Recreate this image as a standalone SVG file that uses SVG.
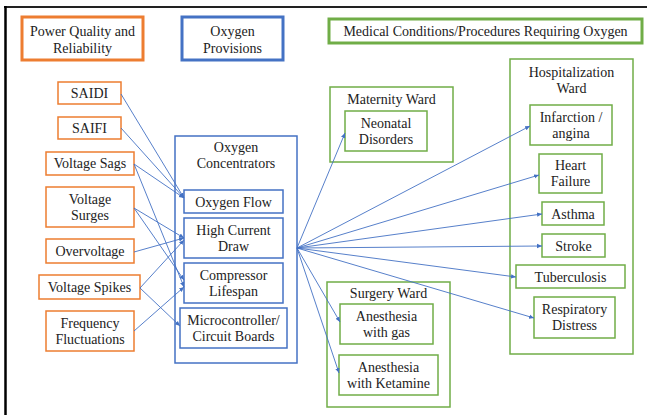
<svg xmlns="http://www.w3.org/2000/svg" width="647" height="415" viewBox="0 0 647 415" font-family="Liberation Serif, serif">
<style>
text{font-family:'Liberation Serif','Times New Roman',Times,'DejaVu Serif',serif;font-size:14px;fill:#222;text-anchor:middle}
.o{fill:#fff;stroke:#ED7D31;stroke-width:1.5}
.b{fill:#fff;stroke:#4472C4;stroke-width:1.5}
.g{fill:#fff;stroke:#70AD47;stroke-width:1.5}
.oh{fill:#fff;stroke:#ED7D31;stroke-width:3}
.bh{fill:#fff;stroke:#4472C4;stroke-width:3}
.gh{fill:#fff;stroke:#70AD47;stroke-width:3}
.c line{stroke:#4472C4;stroke-width:0.9;marker-end:url(#ah)}
</style>
<defs>
<marker id="ah" markerUnits="userSpaceOnUse" markerWidth="6" markerHeight="6" refX="5" refY="3" orient="auto">
<path d="M0,0.8 L5,3 L0,5.2 Z" fill="#4472C4"/>
</marker>
</defs>
<rect x="0" y="0" width="647" height="415" fill="#fff"/>
<g id="frame">
<line x1="4" y1="7" x2="647" y2="7" stroke="#222" stroke-width="2"/>
<line x1="5.5" y1="6" x2="5.5" y2="415" stroke="#000" stroke-width="2.5"/>
</g>
<g id="hdr-power"><rect class="oh" x="22" y="17" width="121" height="43"/><text x="82.5" y="36">Power Quality and</text><text x="82.5" y="53">Reliability</text></g>
<g id="hdr-oxygen"><rect class="bh" x="182" y="17" width="101" height="43"/><text x="232.5" y="36">Oxygen</text><text x="232.5" y="53">Provisions</text></g>
<g id="hdr-medical"><rect class="gh" x="329" y="19" width="313" height="24"/><text x="485.5" y="36">Medical Conditions/Procedures Requiring Oxygen</text></g>

<g id="saidi"><rect class="o" x="58" y="82" width="63" height="22"/><text x="89.5" y="98">SAIDI</text></g>
<g id="saifi"><rect class="o" x="58" y="117" width="63" height="22"/><text x="89.5" y="133">SAIFI</text></g>
<g id="sags"><rect class="o" x="46" y="152" width="88" height="23"/><text x="90" y="168">Voltage Sags</text></g>
<g id="surges"><rect class="o" x="46" y="187" width="88" height="40"/><text x="90" y="204">Voltage</text><text x="90" y="220">Surges</text></g>
<g id="overvoltage"><rect class="o" x="46" y="239" width="88" height="24"/><text x="90" y="256">Overvoltage</text></g>
<g id="spikes"><rect class="o" x="39" y="275" width="101" height="24"/><text x="89.5" y="292">Voltage Spikes</text></g>
<g id="freq"><rect class="o" x="46" y="311" width="88" height="40"/><text x="90" y="328">Frequency</text><text x="90" y="344">Fluctuations</text></g>

<g id="concentrators"><rect class="b" x="175" y="136" width="122" height="227"/><text x="236" y="152">Oxygen</text><text x="236" y="168">Concentrators</text></g>
<g id="flow"><rect class="b" x="184" y="190" width="99" height="23"/><text x="233.5" y="207">Oxygen Flow</text></g>
<g id="current"><rect class="b" x="184" y="218" width="99" height="40"/><text x="233.5" y="235">High Current</text><text x="233.5" y="251">Draw</text></g>
<g id="compressor"><rect class="b" x="184" y="263" width="99" height="40"/><text x="233.5" y="280">Compressor</text><text x="233.5" y="296">Lifespan</text></g>
<g id="micro"><rect class="b" x="180" y="308" width="107" height="40"/><text x="233.5" y="325">Microcontroller/</text><text x="233.5" y="341">Circuit Boards</text></g>

<g id="maternity"><rect class="g" x="330" y="87" width="123" height="75"/><text x="391.5" y="104">Maternity Ward</text></g>
<g id="neonatal"><rect class="g" x="345" y="111" width="82" height="40"/><text x="386" y="128">Neonatal</text><text x="386" y="144">Disorders</text></g>
<g id="surgery"><rect class="g" x="327" y="282" width="123" height="125"/><text x="388.5" y="298">Surgery Ward</text></g>
<g id="gas"><rect class="g" x="340" y="304" width="93" height="40"/><text x="386.5" y="321">Anesthesia</text><text x="386.5" y="337">with gas</text></g>
<g id="ketamine"><rect class="g" x="339" y="355" width="99" height="40"/><text x="388.5" y="372">Anesthesia</text><text x="388.5" y="388">with Ketamine</text></g>

<g id="hospital"><rect class="g" x="510" y="59" width="123" height="295"/><text x="571.5" y="77">Hospitalization</text><text x="571.5" y="93">Ward</text></g>
<g id="infarction"><rect class="g" x="530" y="105" width="82" height="40"/><text x="571" y="122">Infarction /</text><text x="571" y="138">angina</text></g>
<g id="heart"><rect class="g" x="539" y="154" width="63" height="39"/><text x="570.5" y="170">Heart</text><text x="570.5" y="186">Failure</text></g>
<g id="asthma"><rect class="g" x="542" y="202" width="62" height="23"/><text x="573" y="219">Asthma</text></g>
<g id="stroke"><rect class="g" x="542" y="234" width="63" height="23"/><text x="573.5" y="251">Stroke</text></g>
<g id="tb"><rect class="g" x="516" y="265" width="109" height="23"/><text x="570.5" y="282">Tuberculosis</text></g>
<g id="resp"><rect class="g" x="534" y="297" width="81" height="41"/><text x="574.5" y="314">Respiratory</text><text x="574.5" y="330">Distress</text></g>

<g id="connectors" class="c">
<line x1="121" y1="94" x2="184" y2="198"/>
<line x1="121" y1="128" x2="184" y2="198"/>
<line x1="134" y1="164" x2="184" y2="198"/>
<line x1="134" y1="164" x2="184" y2="287"/>
<line x1="134" y1="208" x2="184" y2="238"/>
<line x1="134" y1="208" x2="184" y2="280"/>
<line x1="134" y1="252" x2="184" y2="238"/>
<line x1="140" y1="288" x2="184" y2="240"/>
<line x1="140" y1="288" x2="180" y2="326"/>
<line x1="134" y1="331" x2="184" y2="287"/>
<line x1="297" y1="248" x2="345" y2="133"/>
<line x1="297" y1="248" x2="530" y2="126"/>
<line x1="297" y1="248" x2="539" y2="175"/>
<line x1="297" y1="248" x2="542" y2="214"/>
<line x1="297" y1="248" x2="542" y2="246"/>
<line x1="297" y1="248" x2="516" y2="277"/>
<line x1="297" y1="248" x2="534" y2="318"/>
<line x1="297" y1="248" x2="340" y2="322"/>
<line x1="297" y1="248" x2="339" y2="373"/>
</g>
</svg>
